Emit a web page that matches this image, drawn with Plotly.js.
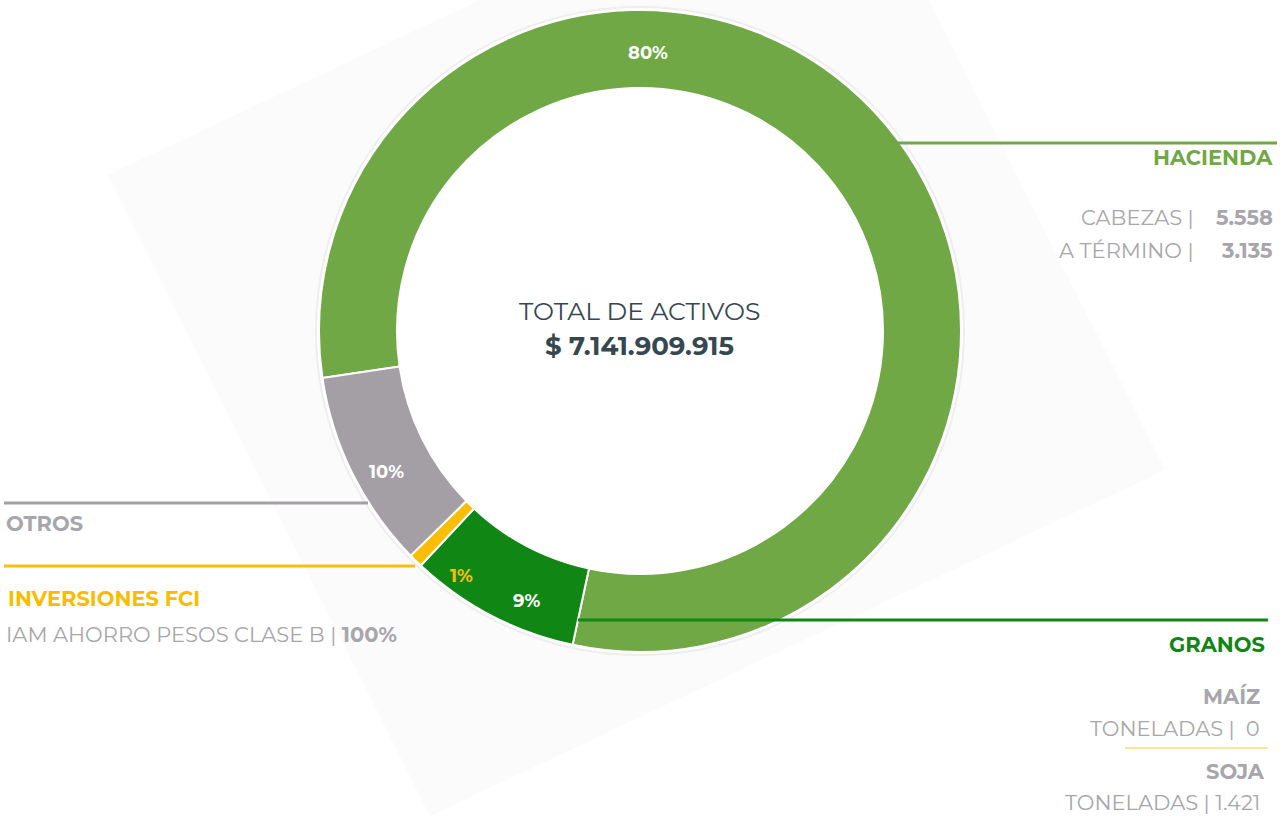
<!DOCTYPE html>
<html>
<head>
<meta charset="utf-8">
<script src="https://cdn.plot.ly/plotly-3.0.1.min.js"></script>
<style>html,body{margin:0;padding:0;background:#fff;}#chart{width:1288px;height:816px;}</style>
</head>
<body>
<div id="chart"></div>
<script>
// ---- data ----
const categories = ['HACIENDA', 'GRANOS', 'INVERSIONES FCI', 'OTROS'];
const sliceValues = [80.7, 8.6, 0.7, 10.0];
const percentLabels = ['80%', '9%', '1%', '10%'];
const sliceColors = ['#6fa845', '#108614', '#fbbd06', '#a39fa4'];
const totalLabel = 'TOTAL DE ACTIVOS';
const totalValue = '$ 7.141.909.915';
const haciendaRows = ['CABEZAS |', 'A TÉRMINO |'];
const haciendaValues = ['5.558', '3.135'];
const granosItems = ['MAÍZ', 'SOJA'];
const granosTons = ['0', '1.421'];
const fciFund = 'IAM AHORRO PESOS CLASE B';
const fciShare = '100%';

const W = 1288, H = 816;
const FONT = "Montserrat, 'Open Sans', sans-serif";
const GRAY = '#a8a6aa';
const px = x => x / W;
const py = y => 1 - y / H;

// geometry (pixels)
const cx = 640, cy = 331, R = 321;

const trace = {
  type: 'pie',
  labels: categories,
  values: sliceValues,
  sort: false,
  direction: 'clockwise',
  rotation: 261.6,
  hole: 0.757,
  textinfo: 'none',
  hoverinfo: 'label+percent',
  marker: {colors: sliceColors, line: {color: '#ffffff', width: 2}},
  domain: {x: [px(cx - R), px(cx + R)], y: [py(cy + R), py(cy - R)]},
  showlegend: false
};

function ann(text, x, y, opts) {
  return Object.assign({
    text: text, xref: 'paper', yref: 'paper', x: px(x), y: py(y),
    xanchor: 'center', yanchor: 'middle', showarrow: false,
    font: {family: FONT, size: 21, color: GRAY}
  }, opts || {});
}

const annotations = [
  // percent labels on slices
  ann('<b>' + percentLabels[0] + '</b>', 648, 53, {font: {family: FONT, size: 18, color: '#ffffff'}}),
  ann('<b>' + percentLabels[1] + '</b>', 526, 601, {font: {family: FONT, size: 18, color: '#ffffff'}}),
  ann('<b>' + percentLabels[2] + '</b>', 461, 576, {font: {family: FONT, size: 18, color: '#fbbd06'}}),
  ann('<b>' + percentLabels[3] + '</b>', 386, 472, {font: {family: FONT, size: 18, color: '#ffffff'}}),
  // center
  ann(totalLabel, 639, 311, {font: {family: FONT, size: 25, color: '#37474f'}}),
  ann('<b>' + totalValue + '</b>', 639, 346, {font: {family: FONT, size: 26, color: '#37474f'}}),
  // hacienda
  ann('<b>' + categories[0] + '</b>', 1275, 158, {xanchor: 'right', font: {family: FONT, size: 21, color: sliceColors[0]}}),
  ann(haciendaRows[0], 1196, 218, {xanchor: 'right'}),
  ann('<b>' + haciendaValues[0] + '</b>', 1275, 218, {xanchor: 'right'}),
  ann(haciendaRows[1], 1196, 250, {xanchor: 'right'}),
  ann('<b>' + haciendaValues[1] + '</b>', 1275, 250, {xanchor: 'right'}),
  // otros
  ann('<b>' + categories[3] + '</b>', 4, 523, {xanchor: 'left', font: {family: FONT, size: 21, color: GRAY}}),
  // inversiones
  ann('<b>' + categories[2] + '</b>', 6, 598, {xanchor: 'left', font: {family: FONT, size: 21, color: '#f8bd00'}}),
  ann(fciFund + ' | <b>' + fciShare + '</b>', 4, 634, {xanchor: 'left'}),
  // granos
  ann('<b>' + categories[1] + '</b>', 1267, 644, {xanchor: 'right', font: {family: FONT, size: 21, color: sliceColors[1]}}),
  ann('<b>' + granosItems[0] + '</b>', 1262, 696, {xanchor: 'right'}),
  ann('TONELADAS |  ' + granosTons[0], 1262, 728, {xanchor: 'right'}),
  ann('<b>' + granosItems[1] + '</b>', 1267, 771, {xanchor: 'right'}),
  ann('TONELADAS | ' + granosTons[1], 1262, 802, {xanchor: 'right'})
];

const shapes = [
  // faint rotated square background
  {type: 'path', xref: 'paper', yref: 'paper', layer: 'below',
   path: `M ${px(108)} ${py(175)} L ${px(843)} ${py(-171)} L ${px(1165)} ${py(470)} L ${px(430)} ${py(816)} Z`,
   fillcolor: '#fbfbfb', line: {width: 0}},
  // soft outline around the ring
  {type: 'circle', xref: 'paper', yref: 'paper', layer: 'below',
   x0: px(cx - R - 3), x1: px(cx + R + 3), y0: py(cy + R + 3), y1: py(cy - R - 3),
   fillcolor: '#ffffff', line: {color: '#eeeeee', width: 2}},
  // leader lines
  {type: 'line', xref: 'paper', yref: 'paper', x0: px(805), x1: px(1277), y0: py(143), y1: py(143), line: {color: sliceColors[0], width: 3}},
  {type: 'line', xref: 'paper', yref: 'paper', x0: px(4), x1: px(368), y0: py(503), y1: py(503), line: {color: '#a39fa4', width: 3}},
  {type: 'line', xref: 'paper', yref: 'paper', x0: px(4), x1: px(415), y0: py(566), y1: py(566), line: {color: '#fbbd06', width: 3}},
  {type: 'line', xref: 'paper', yref: 'paper', x0: px(578), x1: px(1268), y0: py(620), y1: py(620), line: {color: sliceColors[1], width: 3}},
  {type: 'line', xref: 'paper', yref: 'paper', x0: px(1125), x1: px(1268), y0: py(748), y1: py(748), line: {color: '#f6e89c', width: 2}}
];

const layout = {
  width: W, height: H,
  margin: {l: 0, r: 0, t: 0, b: 0},
  paper_bgcolor: '#ffffff',
  plot_bgcolor: '#ffffff',
  showlegend: false,
  annotations: annotations,
  shapes: shapes
};

Plotly.newPlot('chart', [trace], layout, {displayModeBar: false, staticPlot: true});
</script>
</body>
</html>
